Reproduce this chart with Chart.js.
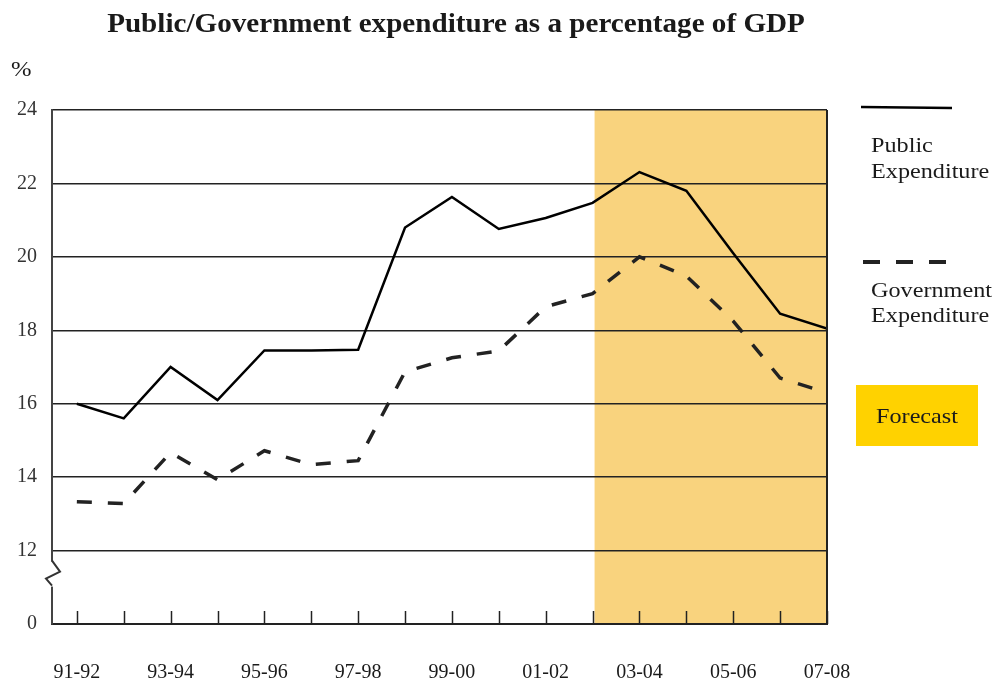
<!DOCTYPE html>
<html>
<head>
<meta charset="utf-8">
<title>Public/Government expenditure as a percentage of GDP</title>
<script src="https://cdn.jsdelivr.net/npm/chart.js@4.4.1/dist/chart.umd.min.js"></script>
<style>
    html, body { margin: 0; padding: 0; background: #fff; }
    #wrap { width: 1002px; height: 683px; position: relative; }
</style>
</head>
<body>
<div id="wrap"><canvas id="gdp-chart"></canvas></div>
<script>
// Financial years
const years = ['91-92', '92-93', '93-94', '94-95', '95-96', '96-97', '97-98', '98-99', '99-00',
               '00-01', '01-02', '02-03', '03-04', '04-05', '05-06', '06-07', '07-08'];

// Expenditure as % of GDP
const publicExp = [16.0, 15.6, 17.0, 16.1, 17.45, 17.45, 17.47, 20.8, 21.63,
                   20.76, 21.06, 21.47, 22.31, 21.8, 20.1, 18.45, 18.05];
const governmentExp = [13.33, 13.28, 14.67, 13.93, 14.72, 14.34, 14.45, 16.87, 17.25,
                       17.44, 18.64, 19.0, 20.0, 19.48, 18.25, 16.7, 16.3];

// Forecast period runs from this year to the end
const forecastFrom = '02-03';

// Y ticks; the bottom one is the broken-axis "0"
const yTicks = [10, 12, 14, 16, 18, 20, 22, 24];
const yBreakValue = 10;
const yBreakLabel = '0';

const SERIF = '"Liberation Serif", "Times New Roman", serif';

// Draw text stretched horizontally by a factor
function wideText(ctx, text, x, y, font, align, stretch) {
    ctx.save();
    ctx.font = font;
    ctx.fillStyle = '#1a1a1a';
    ctx.textBaseline = 'alphabetic';
    const w = ctx.measureText(text).width * stretch;
    let left = x;
    if (align === 'center') left = x - w / 2;
    ctx.translate(left, y);
    ctx.scale(stretch, 1);
    ctx.textAlign = 'left';
    ctx.fillText(text, 0, 0);
    ctx.restore();
}

// Shaded forecast band behind the grid
const forecastBand = {
    id: 'forecastBand',
    beforeDraw(chart) {
        const { ctx, chartArea, scales } = chart;
        const x0 = scales.x.getPixelForValue(years.indexOf(forecastFrom)) + 2;
        const x1 = scales.x.getPixelForValue(years.length - 1);
        ctx.save();
        ctx.fillStyle = '#F9D37E';
        ctx.fillRect(x0, chartArea.top, x1 - x0, chartArea.bottom - chartArea.top);
        ctx.restore();
    }
};

// Frame pieces, tick marks, axis break, title and legend
const decorations = {
    id: 'decorations',
    afterDraw(chart) {
        const { ctx, chartArea, scales } = chart;
        const left = chartArea.left, right = chartArea.right;
        const top = chartArea.top, bottom = chartArea.bottom;

        ctx.save();
        // right edge
        ctx.strokeStyle = '#222';
        ctx.lineWidth = 2;
        ctx.beginPath();
        ctx.moveTo(right, top);
        ctx.lineTo(right, bottom + 1);
        ctx.stroke();

        // tick marks pointing up from the x axis
        ctx.lineWidth = 1.5;
        years.forEach((_, i) => {
            const px = Math.round(scales.x.getPixelForValue(i)) + 0.5;
            ctx.beginPath();
            ctx.moveTo(px, bottom);
            ctx.lineTo(px, bottom - 13);
            ctx.stroke();
        });

        // break in the y axis between 0 and 12
        const yb = scales.y.getPixelForValue(12) + 11;
        ctx.fillStyle = '#fff';
        ctx.fillRect(left - 3, yb, 6, 25);
        ctx.strokeStyle = '#333';
        ctx.lineWidth = 2;
        ctx.beginPath();
        ctx.moveTo(left, yb - 1);
        ctx.lineTo(left + 8, yb + 10);
        ctx.lineTo(left - 6, yb + 17);
        ctx.lineTo(left, yb + 24);
        ctx.stroke();
        ctx.restore();

        // title and unit
        wideText(ctx, 'Public/Government expenditure as a percentage of GDP', 456, 32,
                 'bold 28px ' + SERIF, 'center', 1.04);
        wideText(ctx, '%', 11, 76, '22px ' + SERIF, 'left', 1.12);

        // legend: solid line
        ctx.save();
        ctx.strokeStyle = '#000';
        ctx.lineWidth = 2.5;
        ctx.beginPath();
        ctx.moveTo(861, 107);
        ctx.lineTo(952, 108);
        ctx.stroke();
        // legend: dashed line
        ctx.strokeStyle = '#222';
        ctx.lineWidth = 4;
        ctx.setLineDash([17, 16]);
        ctx.beginPath();
        ctx.moveTo(863, 262);
        ctx.lineTo(947, 262);
        ctx.stroke();
        ctx.setLineDash([]);
        // forecast key
        ctx.fillStyle = '#FFD200';
        ctx.fillRect(856, 385, 122, 61);
        ctx.restore();

        const legendFont = '22px ' + SERIF;
        wideText(ctx, 'Public', 871, 152, legendFont, 'left', 1.1);
        wideText(ctx, 'Expenditure', 871, 178, legendFont, 'left', 1.1);
        wideText(ctx, 'Government', 871, 297, legendFont, 'left', 1.1);
        wideText(ctx, 'Expenditure', 871, 322, legendFont, 'left', 1.1);
        wideText(ctx, 'Forecast', 917, 423, legendFont, 'center', 1.1);
    }
};

function initChart() {
    const ctx = document.getElementById('gdp-chart').getContext('2d');

    window.gdpChart = new Chart(ctx, {
        type: 'line',
        data: {
            datasets: [{
                label: 'Public Expenditure',
                data: publicExp.map((v, i) => ({ x: i, y: v })),
                borderColor: '#000',
                borderWidth: 2.5,
                pointRadius: 0,
                tension: 0,
                fill: false
            }, {
                label: 'Government Expenditure',
                data: governmentExp.map((v, i) => ({ x: i, y: v })),
                borderColor: '#222',
                borderWidth: 3.5,
                borderDash: [15, 16],
                pointRadius: 0,
                tension: 0,
                fill: false
            }]
        },
        options: {
            responsive: true,
            maintainAspectRatio: false,
            animation: false,
            devicePixelRatio: 1,
            layout: {
                padding: { left: 0, right: 175, top: 110, bottom: 0 }
            },
            plugins: {
                legend: { display: false },
                tooltip: { enabled: false },
                title: { display: false }
            },
            scales: {
                x: {
                    type: 'linear',
                    min: -0.53,
                    max: years.length - 1,
                    afterBuildTicks: scale => {
                        scale.ticks = years.map((_, i) => ({ value: i }));
                    },
                    afterFit: scale => { scale.height = 59; },
                    grid: { display: false, drawTicks: false },
                    border: { display: true, color: '#222', width: 2 },
                    ticks: {
                        autoSkip: false,
                        maxRotation: 0,
                        padding: 37,
                        color: '#1a1a1a',
                        font: { family: SERIF, size: 20 },
                        callback: v => (v % 2 === 0 ? years[v] : '')
                    }
                },
                y: {
                    min: yTicks[0],
                    max: yTicks[yTicks.length - 1],
                    afterBuildTicks: scale => {
                        scale.ticks = yTicks.map(v => ({ value: v }));
                    },
                    afterFit: scale => { scale.width = 52; },
                    grid: {
                        drawTicks: false,
                        color: c => (c.tick && c.tick.value === yBreakValue ? 'rgba(0,0,0,0)' : '#222'),
                        lineWidth: 1.5
                    },
                    border: { display: true, color: '#444', width: 2 },
                    ticks: {
                        padding: 15,
                        color: '#333',
                        font: { family: SERIF, size: 20 },
                        callback: v => (v === yBreakValue ? yBreakLabel : String(v))
                    }
                }
            }
        },
        plugins: [forecastBand, decorations]
    });
}

document.addEventListener('DOMContentLoaded', initChart);
</script>
</body>
</html>
